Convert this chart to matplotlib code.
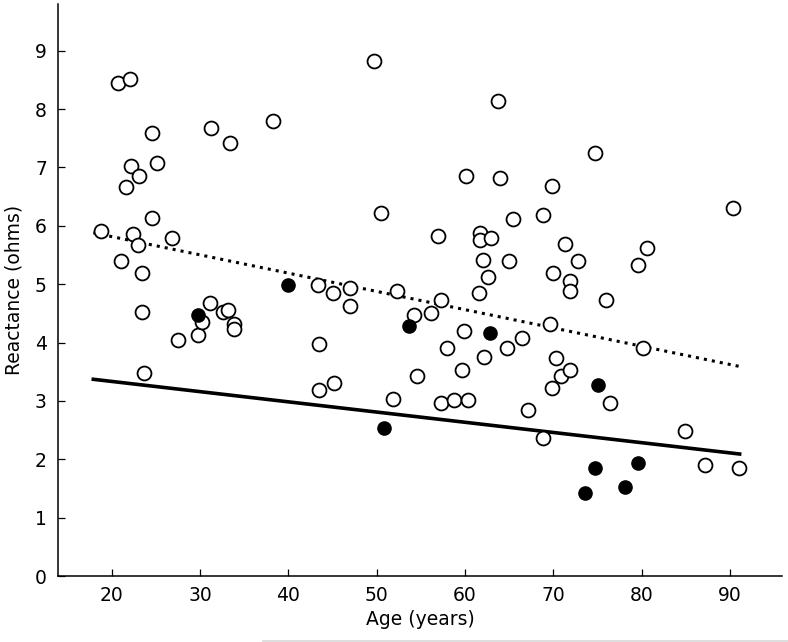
import numpy as np
import matplotlib.pyplot as plt
from matplotlib.lines import Line2D

# open circles: age (years), reactance (ohms)
age_open = [18.8, 20.7, 22.1, 24.5, 25.1, 22.2, 23.1, 21.6, 24.5, 22.4, 23.0, 26.8,
            21.0, 23.4, 23.4, 23.6, 27.5, 29.8, 30.2, 31.1, 32.6, 33.2, 33.8, 33.8,
            31.25, 33.4, 38.3, 43.3, 45.0, 47.0, 47.0, 43.5, 43.5, 45.15, 49.7, 50.45,
            51.8, 52.35, 54.2, 54.6, 56.1, 56.9, 57.3, 57.3, 58.0, 58.8, 59.7, 59.9,
            60.1, 60.3, 61.6, 61.7, 61.7, 62.0, 62.2, 62.6, 62.95, 63.7, 64.0, 64.7,
            65.0, 65.4, 66.4, 67.1, 68.8, 68.8, 69.6, 69.8, 69.8, 70.0, 70.3, 70.9,
            71.3, 71.85, 71.85, 71.85, 72.8, 74.7, 76.0, 76.4, 79.6, 80.2, 80.6, 84.9,
            87.2, 90.4, 91.0]
react_open = [5.91, 8.44, 8.51, 7.59, 7.08, 7.02, 6.85, 6.67, 6.13, 5.86, 5.67, 5.79,
              5.39, 5.19, 4.53, 3.48, 4.05, 4.13, 4.35, 4.68, 4.53, 4.56, 4.31, 4.23,
              7.68, 7.42, 7.79, 4.99, 4.85, 4.93, 4.62, 3.98, 3.19, 3.30, 8.82, 6.22,
              3.04, 4.88, 4.48, 3.42, 4.51, 5.82, 4.73, 2.96, 3.91, 3.02, 3.53, 4.19,
              6.85, 3.02, 4.85, 5.87, 5.76, 5.42, 3.76, 5.13, 5.79, 8.14, 6.82, 3.91,
              5.39, 6.11, 4.08, 2.85, 6.19, 2.36, 4.31, 6.68, 3.22, 5.19, 3.73, 3.42,
              5.68, 5.05, 4.88, 3.53, 5.39, 7.25, 4.73, 2.96, 5.33, 3.91, 5.62, 2.48,
              1.90, 6.31, 1.85]

# filled circles
age_fill = [29.7, 40.0, 50.8, 53.7, 62.8, 75.1, 74.7, 73.6, 78.1, 79.6]
react_fill = [4.48, 4.99, 2.53, 4.29, 4.16, 3.28, 1.85, 1.42, 1.53, 1.93]

# regression lines (end points)
fit_age = [17.9, 91.1]
fit_open = [5.88, 3.59]
fit_fill = [3.37, 2.09]

plt.rcParams['font.family'] = 'DejaVu Sans'
plt.rcParams['font.size'] = 13.5

fig = plt.figure(figsize=(7.88, 6.42), dpi=100)
ax = fig.add_axes([0.0736, 0.1028, 0.9188, 0.891])

ax.plot(fit_age, fit_open, ':', color='black', lw=2.2)
ax.plot(fit_age, fit_fill, '-', color='black', lw=2.6)
ax.plot(age_open, react_open, 'o', ms=10, mfc='white', mec='black', mew=1.3, ls='none')
ax.plot(age_fill, react_fill, 'o', ms=9.5, mfc='black', mec='black', mew=1.0, ls='none')

ax.set_xlim(13.9, 95.9)
ax.set_ylim(0, 9.8)
ax.set_xticks(np.arange(20, 91, 10))
ax.set_yticks(np.arange(0, 10, 1))
ax.tick_params(direction='in', length=5, width=0.9)
ax.tick_params(axis='y', pad=8)
ax.tick_params(axis='x', pad=7)
for side in ['top', 'right']:
    ax.spines[side].set_visible(False)
for side in ['left', 'bottom']:
    ax.spines[side].set_linewidth(1.1)

ax.set_xlabel('Age (years)', labelpad=4)
ax.set_ylabel('Reactance (ohms)', labelpad=8)

# thin grey line at the bottom edge of the screenshot
fig.add_artist(Line2D([263 / 788, 1.0], [1.5 / 642, 1.5 / 642], color='#d8d8d8', lw=1.2))

fig.savefig('out.png', dpi=100)
